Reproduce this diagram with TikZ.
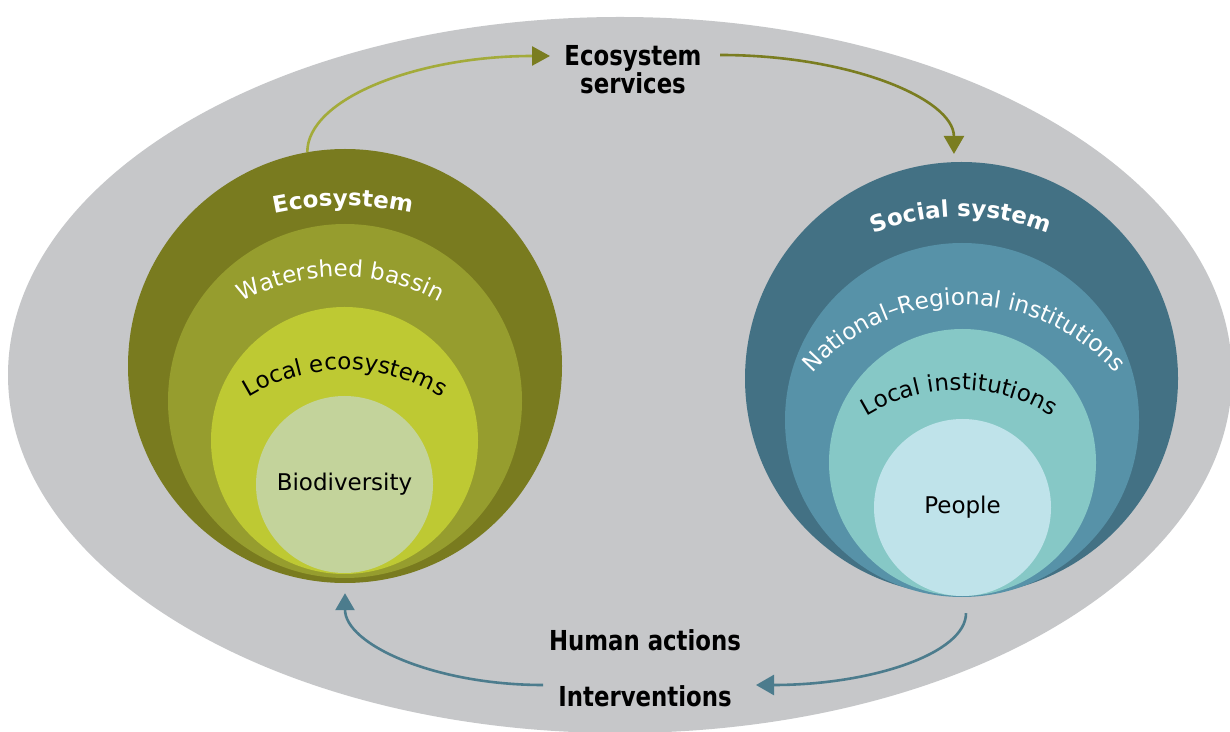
\documentclass[tikz,border=0pt]{standalone}
\usepackage{fontspec}
\setmainfont{DejaVu Sans}
\newfontfamily\lblfont[FakeStretch=0.83]{DejaVu Sans}
\usetikzlibrary{arrows.meta,decorations.text}
\definecolor{bggrey}{HTML}{C6C7C9}
\definecolor{ecoA}{HTML}{797B1F}
\definecolor{ecoB}{HTML}{969D2E}
\definecolor{ecoC}{HTML}{BEC933}
\definecolor{ecoD}{HTML}{C3D39B}
\definecolor{socA}{HTML}{437184}
\definecolor{socB}{HTML}{5792A8}
\definecolor{socC}{HTML}{86C8C6}
\definecolor{socD}{HTML}{BFE3EA}
\definecolor{olivelight}{HTML}{A3AB3A}
\definecolor{olivedark}{HTML}{7A7D20}
\definecolor{tealarrow}{HTML}{4C7C8D}
\tikzset{
  ring/.style={circle, inner sep=0pt, draw=none, fill=#1},
  bodytext/.style={font=\fontsize{23}{28}\selectfont, text=black},
  lbl/.style={font=\lblfont\bfseries\fontsize{27.5}{26}\selectfont, text=black, inner sep=0pt},
  flow/.style={line width=2.6pt},
  arcwhitebold/.style={decorate, decoration={text along path, text align=center, text color=white,
      text={|\fontsize{23}{28}\selectfont\bfseries|#1}}},
  arcwhite/.style={decorate, decoration={text along path, text align=center, text color=white,
      text={|\fontsize{23}{28}\selectfont|#1}}},
  arcblack/.style={decorate, decoration={text along path, text align=center, text color=black,
      text={|\fontsize{23}{28}\selectfont|#1}}}
}
\begin{document}
\begin{tikzpicture}[x=1pt,y=1pt]
\useasboundingbox (0,0) rectangle (1230,731);
\fill[white] (0,0) rectangle (1230,731);
\begin{scope}
  \clip (0,0) rectangle (1230,731);
  \fill[bggrey] (620,356) ellipse[x radius=612pt, y radius=358pt];
\end{scope}

% Ecosystem rings
\node[ring=ecoA, minimum size=434pt] (eco) at (345,365) {};
\node[ring=ecoB, minimum size=354pt] (water) at (345,330) {};
\node[ring=ecoC, minimum size=267pt] (localeco) at (344.5,290.5) {};
\node[ring=ecoD, minimum size=177pt, bodytext] (bio) at (344.5,246.5) {Biodiversity};

% Social rings
\node[ring=socA, minimum size=433pt] (social) at (961.5,352.5) {};
\node[ring=socB, minimum size=354pt] (natreg) at (962,311) {};
\node[ring=socC, minimum size=267pt] (localinst) at (962.5,268.5) {};
\node[ring=socD, minimum size=177pt, bodytext] (people) at (962.5,223.5) {People};

% curved titles
\path[arcwhitebold={Ecosystem}] (343,199) ++(120:326pt) arc[start angle=120, end angle=60, radius=326pt];
\path[arcwhite={Watershed bassin}] (340.5,249.3) ++(160:205pt) arc[start angle=160, end angle=20, radius=205pt];
\path[arcblack={Local ecosystems}] (345,177.5) ++(165:183.5pt) arc[start angle=165, end angle=15, radius=183.5pt];
\path[arcwhitebold={Social system}] (961,278.3) ++(140:236pt) arc[start angle=140, end angle=40, radius=236pt];
\path[arcwhite={National–Regional institutions}] (964,224) ++(178:202pt) arc[start angle=178, end angle=2, radius=202pt];
\path[arcblack={Local institutions}] (959,163) ++(165:178pt) arc[start angle=165, end angle=15, radius=178pt];

% labels
\node[lbl, align=center] (es) at (633,661.5) {Ecosystem\\services};
\node[lbl, anchor=base] (ha) at (645,81) {Human actions};
\node[lbl, anchor=base] (iv) at (645,25) {Interventions};

% connector ends
\coordinate (esin) at (550,675);
\coordinate (esout) at (720,676);
\coordinate (socout) at ([shift={(4.5,-18)}]social.south);
\coordinate (ivin) at (756,46);
\coordinate (ivout) at (543,46);

% arrows
\draw[flow, draw=olivelight, -{Triangle[length=18pt, width=19pt, color=olivedark]}]
  (eco.100) .. controls +(0,53) and +(-134,0) .. (esin);
\draw[flow, draw=olivedark, -{Triangle[length=18pt, width=20pt]}]
  (esout) .. controls +(130,0) and +(0,55) .. ([yshift=8pt]social.92);
\draw[flow, draw=tealarrow, -{Triangle[length=18pt, width=20pt]}]
  (socout) .. controls +(0,-40) and +(116,0) .. (ivin);
\draw[flow, draw=tealarrow, -{Triangle[length=17pt, width=19pt]}]
  (ivout) .. controls +(-109,0) and +(0,-51) .. ([yshift=-10pt]eco.south);
\end{tikzpicture}
\end{document}
